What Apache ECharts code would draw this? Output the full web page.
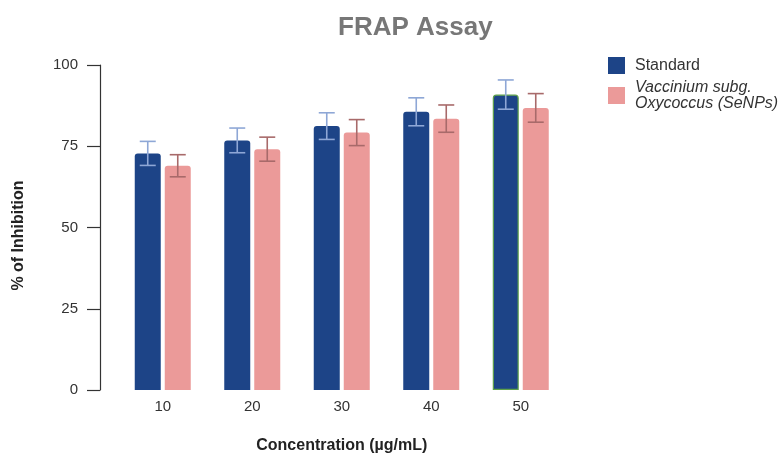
<!DOCTYPE html>
<html><head><meta charset="utf-8">
<script src="https://cdn.jsdelivr.net/npm/echarts@6/dist/echarts.min.js"></script>
<style>html,body{margin:0;padding:0;background:#fff}#c{width:779px;height:459px}</style>
</head><body><div id="c"></div>
<script>
const categories = ['10', '20', '30', '40', '50'];
const standardValues = [72.8, 76.8, 81.2, 85.6, 90.9];
const standardErrors = [3.7, 3.8, 4.1, 4.3, 4.5];
const senpValues = [69.0, 74.1, 79.2, 83.5, 86.8];
const senpErrors = [3.4, 3.7, 4.0, 4.2, 4.4];
const yTicks = [0, 25, 50, 75, 100];

const BAR_W = 26, BAR_GAP = 4;
const seriesNames = ['Standard', 'Vaccinium subg.\nOxycoccus (SeNPs)'];
const FONT = 'Liberation Sans, Arial, sans-serif';

function errorSeries(values, errors, idx, color) {
  return {
    type: 'custom',
    name: seriesNames[idx] + '_err',
    silent: true,
    z: 5,
    data: values.map((v, i) => [i, v - errors[i], v + errors[i]]),
    renderItem: function (params, api) {
      const x = api.value(0);
      const lo = api.coord([x, api.value(1)]);
      const hi = api.coord([x, api.value(2)]);
      const offset = (idx === 0 ? -1 : 1) * (BAR_W + BAR_GAP) / 2;
      const cx = lo[0] + offset;
      const half = 8;
      const st = { stroke: color, lineWidth: 1.6 };
      return {
        type: 'group',
        children: [
          { type: 'line', shape: { x1: cx, y1: lo[1], x2: cx, y2: hi[1] }, style: st },
          { type: 'line', shape: { x1: cx - half, y1: hi[1], x2: cx + half, y2: hi[1] }, style: st },
          { type: 'line', shape: { x1: cx - half, y1: lo[1], x2: cx + half, y2: lo[1] }, style: st }
        ]
      };
    }
  };
}

const chart = echarts.init(document.getElementById('c'));
chart.setOption({
  animation: false,
  backgroundColor: '#fff',
  title: {
    text: 'FRAP Assay',
    left: 333,
    top: 10,
    textStyle: { fontFamily: FONT, fontSize: 26, fontWeight: 'bold', color: '#777777' }
  },
  legend: {
    orient: 'vertical',
    left: 603,
    top: 52,
    itemWidth: 17,
    itemHeight: 17,
    itemGap: 0,
    icon: 'rect',
    textStyle: { fontFamily: FONT, fontSize: 16, color: '#333', padding: [0, 0, 0, 5] },
    data: [
      { name: seriesNames[0] },
      { name: seriesNames[1], textStyle: { fontStyle: 'italic', lineHeight: 16, padding: [11, 0, 0, 5] } }
    ]
  },
  grid: { left: 118, right: 213.5, top: 65, bottom: 63.5, containLabel: false },
  xAxis: {
    type: 'category',
    data: categories,
    axisLine: { show: false },
    axisTick: { show: false },
    axisLabel: { fontFamily: FONT, fontSize: 15, color: '#333', margin: 9 },
    name: 'Concentration (µg/mL)',
    nameLocation: 'middle',
    nameGap: 48,
    nameTextStyle: { fontFamily: FONT, fontSize: 16, fontWeight: 'bold', color: '#222' }
  },
  yAxis: {
    type: 'value',
    min: 0,
    max: 100,
    interval: 25,
    offset: 18,
    axisLine: { show: true, lineStyle: { color: '#333', width: 1.2 } },
    axisTick: { show: true, length: 13, lineStyle: { color: '#333', width: 1.2 } },
    axisLabel: { fontFamily: FONT, fontSize: 15, color: '#333', margin: 22,
      formatter: v => yTicks.includes(v) ? String(v) : '' },
    splitLine: { show: false },
    name: '% of Inhibition',
    nameLocation: 'middle',
    nameGap: 73,
    nameTextStyle: { fontFamily: FONT, fontSize: 16, fontWeight: 'bold', color: '#222', padding: [0, 16, 0, 0] }
  },
  series: [
    {
      type: 'bar',
      name: seriesNames[0],
      barWidth: BAR_W,
      barGap: (BAR_GAP / BAR_W * 100) + '%',
      itemStyle: { color: '#1d4487', borderRadius: [3, 3, 0, 0] },
      data: standardValues.map((v, i) => i === standardValues.length - 1
        ? { value: v, itemStyle: { borderColor: '#5ea04a', borderWidth: 1.2 } }
        : v)
    },
    {
      type: 'bar',
      name: seriesNames[1],
      barWidth: BAR_W,
      itemStyle: { color: '#eb9a99', borderRadius: [3, 3, 0, 0] },
      data: senpValues
    },
    errorSeries(standardValues, standardErrors, 0, '#8ea7d6'),
    errorSeries(senpValues, senpErrors, 1, '#a86a6a')
  ]
});
</script>
</body></html>
